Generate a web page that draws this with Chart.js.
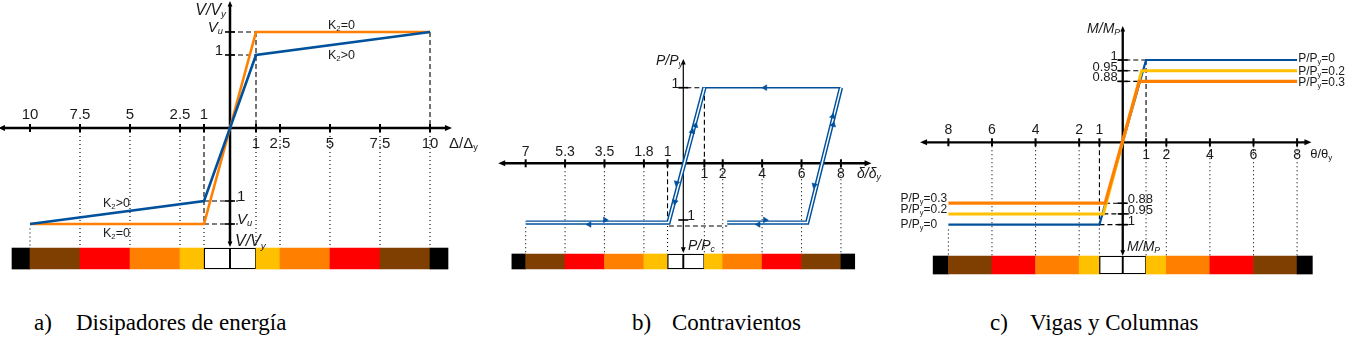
<!DOCTYPE html>
<html>
<head>
    <meta charset="utf-8">
    <title>Curvas generalizadas fuerza-deformación</title>
    <script src="https://cdn.jsdelivr.net/npm/chart.js"></script>
    <style>
        body {
            margin: 0;
            background: #fff;
            width: 1347px;
            height: 338px;
            position: relative;
            overflow: hidden;
        }
        canvas {
            position: absolute;
            top: 0;
        }
        #chartA { left: 0; }
        #chartB { left: 490px; }
        #chartC { left: 900px; }
        .cap {
            position: absolute;
            top: 309px;
            font-family: "Liberation Serif", "Times New Roman", serif;
            font-size: 23px;
            line-height: 28px;
            color: #000;
            white-space: nowrap;
        }
    </style>
</head>
<body>
    <canvas id="chartA" width="490" height="280"></canvas>
    <canvas id="chartB" width="400" height="280"></canvas>
    <canvas id="chartC" width="447" height="280"></canvas>

    <div class="cap" style="left:34px">a)</div>
    <div class="cap" style="left:76px">Disipadores de energía</div>
    <div class="cap" style="left:632px">b)</div>
    <div class="cap" style="left:672px">Contravientos</div>
    <div class="cap" style="left:990px">c)</div>
    <div class="cap" style="left:1030px">Vigas y Columnas</div>

    <script>
        // ---- data ----

        // a) Disipadores de energía (V/Vy vs Δ/Δy)
        const aTickLabels = ['1', '2.5', '5', '7.5', '10'];
        const aTickPos = [1.3, 2.5, 5, 7.5, 10];
        const aVu = 1.315;
        const aK2zero = [[-10, -aVu], [-1.3, -aVu], [1.3, aVu], [10, aVu]];
        const aK2pos = [[-10, -aVu], [-1.3, -1], [1.3, 1], [10, aVu]];
        const aZoneEdges = [-10.9, -10, -7.5, -5, -2.5, -1.3, 0, 1.3, 2.5, 5, 7.5, 10, 10.9];

        // b) Contravientos (P/Py vs δ/δy)
        const bRightLabels = ['1', '2', '4', '6', '8'];
        const bRightPos = [1.07, 2, 4, 6, 8];
        const bLeftLabels = ['7', '5.3', '3.5', '1.8', '1'];
        const bLeftPos = [-8, -6, -4, -2, -0.8];
        const bComp = -0.785;
        const bLoopLeft = [[-8, bComp], [-0.75, bComp], [1.07, 1]];
        const bLoopRight = [[8, 1], [6.29, bComp], [2.23, bComp]];
        const bPeak = [[1.07, 1], [8, 1]];
        const bArrowPts = [[4.15, 1], [0.45, 0.42], [0.62, 0.5], [-0.34, -0.26], [-0.42, -0.51],
                           [7.58, 0.62], [7.61, 0.51], [6.65, -0.29],
                           [-4.77, -0.81], [-3.97, -0.75], [3.81, -0.81], [4.15, -0.75]];
        const bArrowDir = [-90, 14, 14, 194, 194, 14, 14, 194, -90, 90, -90, 90];
        const bZoneEdges = [-8.7, -8, -6, -4, -2, -0.8, 0, 1.07, 2, 4, 6, 8, 8.7];

        // c) Vigas y Columnas (M/Mp vs θ/θy)
        const cTickLabels = ['1', '2', '4', '6', '8'];
        const cTickPos = [1.07, 2, 4, 6, 8];
        const cLevelLabels = ['1', '0.95', '0.88'];
        const cLevelPos = [1, 0.87, 0.74];
        const cSeriesNames = ['P/P{y}=0', 'P/P{y}=0.2', 'P/P{y}=0.3'];
        const cBlue = [[-8, -1], [-1.07, -1], [1.07, 1], [8, 1]];
        const cYellow = [[-8, -0.87], [-0.89, -0.87], [0.87, 0.87], [8, 0.87]];
        const cOrange = [[-8, -0.74], [-0.81, -0.74], [0.76, 0.74], [8, 0.74]];
        const cZoneEdges = [-8.7, -8, -6, -4, -2, -1.07, 0, 1.07, 2, 4, 6, 8, 8.7];

        // performance zones along the bottom strip
        const zoneColors = ['#000000', '#7f3f00', '#ff0000', '#ff8000', '#ffc000', '#ffffff',
                            '#ffffff', '#ffc000', '#ff8000', '#ff0000', '#7f3f00', '#000000'];

        const BLUE = '#00519c', ORANGE = '#ff8000', YELLOW = '#ffc000';
        const DASH = [5, 3], DOT = [1, 3];
        const FONT = '"Liberation Sans", Arial, sans-serif';

        // ---- helpers ----
        function path(pts, color, width, order) {
            return {
                type: 'line',
                data: pts.map(p => ({ x: p[0], y: p[1] })),
                borderColor: color,
                borderWidth: width,
                pointRadius: 0,
                fill: false,
                tension: 0,
                order: order
            };
        }

        function seg(a, b, dash) {
            return {
                type: 'line',
                data: [{ x: a[0], y: a[1] }, { x: b[0], y: b[1] }],
                borderColor: '#000',
                borderWidth: 1.1,
                borderDash: dash,
                pointRadius: 0,
                fill: false,
                order: 8
            };
        }

        function zoneBar(edges, yPos, thick) {
            const data = [];
            for (let i = 0; i < edges.length - 1; i++) {
                data.push({ x: [edges[i], edges[i + 1]], y: yPos });
            }
            return {
                type: 'bar',
                indexAxis: 'y',
                data: data,
                backgroundColor: zoneColors,
                borderColor: '#000',
                borderWidth: zoneColors.map(c => c === '#ffffff' ? 1.3 : 0),
                borderSkipped: false,
                barThickness: thick,
                order: 9
            };
        }

        // text with {subscript} parts
        function rich(ctx, text, x, y, size, align, italic) {
            const parts = text.split(/(\{[^}]*\})/).filter(s => s.length).map(s =>
                s[0] === '{' ? [s.slice(1, -1), true] : [s, false]);
            const font = sub => (italic ? 'italic ' : '') + (sub ? size * 0.62 : size) + 'px ' + FONT;
            let w = 0;
            parts.forEach(p => { ctx.font = font(p[1]); w += ctx.measureText(p[0]).width; });
            let cx = align === 'right' ? x - w : align === 'center' ? x - w / 2 : x;
            ctx.textAlign = 'left';
            ctx.textBaseline = 'alphabetic';
            parts.forEach(p => {
                ctx.font = font(p[1]);
                ctx.fillText(p[0], cx, y + (p[1] ? size * 0.16 : 0));
                cx += ctx.measureText(p[0]).width;
            });
        }

        function arrowHead(ctx, x, y, dx, dy, s) {
            ctx.beginPath();
            ctx.moveTo(x + dx * s, y + dy * s);
            ctx.lineTo(x - dx * s * 0.4 - dy * s * 0.6, y - dy * s * 0.4 - dx * s * 0.6);
            ctx.lineTo(x - dx * s * 0.4 + dy * s * 0.6, y - dy * s * 0.4 + dx * s * 0.6);
            ctx.closePath();
            ctx.fill();
        }

        // draws the centred axes, ticks and labels with the chart's own scales
        function axesPlugin(cfg) {
            return {
                id: 'centredAxes',
                beforeDatasetsDraw(chart) {
                    const ctx = chart.ctx, sx = chart.scales.x, sy = chart.scales.y;
                    const X = v => sx.getPixelForValue(v), Y = v => sy.getPixelForValue(v);
                    ctx.save();
                    ctx.strokeStyle = '#000';
                    ctx.fillStyle = '#000';
                    ctx.lineWidth = cfg.xw;
                    ctx.beginPath();
                    ctx.moveTo(X(cfg.xSpan[0]), Y(0));
                    ctx.lineTo(X(cfg.xSpan[1]), Y(0));
                    ctx.stroke();
                    arrowHead(ctx, X(cfg.xSpan[0]), Y(0), -1, 0, 5);
                    arrowHead(ctx, X(cfg.xSpan[1]), Y(0), 1, 0, 5);
                    ctx.lineWidth = cfg.yw;
                    ctx.beginPath();
                    ctx.moveTo(X(0), Y(cfg.ySpan[0]));
                    ctx.lineTo(X(0), Y(cfg.ySpan[1]));
                    ctx.stroke();
                    arrowHead(ctx, X(0), Y(cfg.ySpan[0]), 0, -1, 4);
                    arrowHead(ctx, X(0), Y(cfg.ySpan[1]), 0, 1, 4);
                    ctx.lineWidth = 2;
                    cfg.leftPos.concat(cfg.rightPos).forEach(p => {
                        ctx.beginPath();
                        ctx.moveTo(X(p), Y(0) - 4);
                        ctx.lineTo(X(p), Y(0) + 4);
                        ctx.stroke();
                    });
                    ctx.lineWidth = 1.6;
                    cfg.yTicks.forEach(t => {
                        ctx.beginPath();
                        ctx.moveTo(X(0) - 5, Y(t.v));
                        ctx.lineTo(X(0) + 5, Y(t.v));
                        ctx.stroke();
                    });
                    ctx.restore();
                },
                afterDatasetsDraw(chart) {
                    const ctx = chart.ctx, sx = chart.scales.x, sy = chart.scales.y;
                    const X = v => sx.getPixelForValue(v), Y = v => sy.getPixelForValue(v);
                    ctx.save();
                    ctx.fillStyle = '#1a1a1a';
                    cfg.leftPos.forEach((p, i) =>
                        rich(ctx, cfg.leftLabels[i], X(p), Y(0) + cfg.leftOff, cfg.size, 'center'));
                    cfg.rightPos.forEach((p, i) =>
                        rich(ctx, cfg.rightLabels[i], X(p), Y(0) + cfg.rightOff, cfg.size, 'center'));
                    cfg.yTicks.forEach(t =>
                        rich(ctx, t.t, X(0) + t.side * cfg.yGap, Y(t.v), cfg.ySize,
                             t.side < 0 ? 'right' : 'left', t.it));
                    cfg.texts.forEach(t =>
                        rich(ctx, t.t, X(t.x), Y(t.y), t.s, t.al || 'left', t.it));
                    ctx.restore();
                }
            };
        }

        function baseOptions(xr, yr) {
            return {
                responsive: false,
                animation: false,
                events: [],
                layout: { padding: 0, autoPadding: false },
                plugins: { legend: { display: false }, tooltip: { enabled: false } },
                scales: {
                    x: { type: 'linear', display: false, offset: false, grid: { offset: false }, min: xr[0], max: xr[1] },
                    y: { type: 'linear', display: false, offset: false, grid: { offset: false }, min: yr[0], max: yr[1] }
                }
            };
        }

        // ---- a) Disipadores de energía ----
        const aBarTop = -1.637;
        const dsA = [
            path(aK2pos, BLUE, 2.6, 2),
            path(aK2zero, ORANGE, 2.6, 3),
            zoneBar(aZoneEdges, -1.788, 21),
            seg([0, aVu], [aTickPos[0], aVu], DASH),
            seg([0, 1], [aTickPos[0], 1], DASH),
            seg([aTickPos[0], aVu], [aTickPos[0], 0], DASH),
            seg([10, aVu], [10, 0], DASH),
            seg([-aTickPos[0], 0], [-aTickPos[0], -aVu], DASH),
            seg([-aTickPos[0], -1], [0.4, -1], DASH),
            seg([-aTickPos[0], -aVu], [0.4, -aVu], DASH)
        ];
        aTickPos.forEach(p => {
            dsA.push(seg([p, 0], [p, aBarTop], DOT));
            const start = p === 10 ? -aVu - 0.06 : p === aTickPos[0] ? -aVu : 0;
            dsA.push(seg([-p, start], [-p, aBarTop], DOT));
        });

        new Chart(document.getElementById('chartA'), {
            type: 'scatter',
            data: { datasets: dsA },
            options: baseOptions([-11.5, 13], [-2.082, 1.753]),
            plugins: [axesPlugin({
                xSpan: [-11.35, 10.85], ySpan: [1.685, -1.575], xw: 2.5, yw: 2.5,
                size: 15, ySize: 15, yGap: 7,
                leftPos: aTickPos.map(p => -p), leftLabels: aTickLabels,
                rightPos: aTickPos, rightLabels: aTickLabels,
                leftOff: -9, rightOff: 20,
                yTicks: [
                    { v: aVu, t: 'V{u}', it: true, side: -1 },
                    { v: 1, t: '1', side: -1 },
                    { v: -1, t: '1', side: 1 },
                    { v: -aVu, t: 'V{u}', it: true, side: 1 }
                ],
                texts: [
                    { t: 'V/V{y}', x: -0.2, y: 1.55, s: 16, al: 'right', it: true },
                    { t: 'V/V{y}', x: 0.25, y: -1.616, s: 16, it: true },
                    { t: 'Δ/Δ{y}', x: 10.95, y: -0.274, s: 15 },
                    { t: 'K{2}=0', x: 4.9, y: 1.356, s: 12.5 },
                    { t: 'K{2}>0', x: 4.9, y: 0.945, s: 12.5 },
                    { t: 'K{2}>0', x: -6.35, y: -1.082, s: 12.5 },
                    { t: 'K{2}=0', x: -6.35, y: -1.493, s: 12.5 }
                ]
            })]
        });

        // ---- b) Contravientos ----
        const bBarTop = -1.2;
        const dsB = [
            {
                type: 'scatter',
                data: bArrowPts.map(p => ({ x: p[0], y: p[1] })),
                pointStyle: 'triangle',
                pointRadius: 3.3,
                rotation: bArrowDir,
                backgroundColor: BLUE,
                borderColor: BLUE,
                borderWidth: 0.5,
                showLine: false,
                order: 0
            },
            path(bPeak, BLUE, 1.5, 3),
            path(bLoopLeft, '#ffffff', 1.5, 1),
            path(bLoopLeft, BLUE, 4.4, 2),
            path(bLoopRight, '#ffffff', 1.5, 1),
            path(bLoopRight, BLUE, 4.4, 2),
            zoneBar(bZoneEdges, -1.299, 15),
            seg([-0.25, 1], [bRightPos[0], 1], DASH),
            seg([bRightPos[0], 1], [bRightPos[0], 0], DASH),
            seg([bLeftPos[4], 0], [bLeftPos[4], -0.83], DASH),
            seg([-0.73, -0.83], [2.23, -0.83], DASH)
        ];
        bRightPos.forEach(p => dsB.push(seg([p, 0], [p, bBarTop], DOT)));
        bLeftPos.forEach(p => {
            const start = p === -8 ? bComp - 0.06 : p === bLeftPos[4] ? -0.83 : 0;
            dsB.push(seg([p, start], [p, bBarTop], DOT));
        });

        new Chart(document.getElementById('chartB'), {
            type: 'scatter',
            data: { datasets: dsB },
            options: baseOptions([-9.81, 10.49], [-1.544, 2.16]),
            plugins: [axesPlugin({
                xSpan: [-9.14, 9.3], ySpan: [1.327, -1.133], xw: 2.4, yw: 1.2,
                size: 14, ySize: 14, yGap: 4,
                leftPos: bLeftPos, leftLabels: bLeftLabels,
                rightPos: bRightPos, rightLabels: bRightLabels,
                leftOff: -7, rightOff: 15,
                yTicks: [
                    { v: 1, t: '1', side: -1 },
                    { v: -0.75, t: '1', side: 1 }
                ],
                texts: [
                    { t: 'P/P{y}', x: -0.02, y: 1.30, s: 14, al: 'right', it: true },
                    { t: 'P/P{c}', x: 0.24, y: -1.147, s: 14, it: true },
                    { t: 'δ/δ{y}', x: 8.82, y: -0.193, s: 14, it: true }
                ]
            })]
        });

        // ---- c) Vigas y Columnas ----
        const cBarTop = -1.382;
        const cCorners = [cBlue, cYellow, cOrange];
        const dsC = [
            path(cOrange, ORANGE, 3.2, 2),
            path(cYellow, YELLOW, 3, 3),
            path(cBlue, BLUE, 2.2, 4),
            zoneBar(cZoneEdges, -1.491, 18),
            seg([cBlue[2][0], 1], [cBlue[2][0], 0], DASH),
            seg([cBlue[1][0], 0], [cBlue[1][0], -1], DASH)
        ];
        cCorners.forEach(s => {
            dsC.push(seg([-0.25, s[2][1]], [s[2][0], s[2][1]], DASH));
            dsC.push(seg([s[1][0], s[1][1]], [0.3, s[1][1]], DASH));
        });
        cTickPos.forEach(p => {
            dsC.push(seg([p, 0], [p, cBarTop], DOT));
            const start = p === 8 ? -1.06 : p === cTickPos[0] ? -1 : 0;
            dsC.push(seg([-p, start], [-p, cBarTop], DOT));
        });

        const cYTicks = [];
        cLevelPos.forEach((v, i) => {
            cYTicks.push({ v: v, t: cLevelLabels[i], side: -1 });
            cYTicks.push({ v: -v, t: cLevelLabels[i], side: 1 });
        });

        new Chart(document.getElementById('chartC'), {
            type: 'scatter',
            data: { datasets: dsC },
            options: baseOptions([-10.22, 10.29], [-1.673, 1.729]),
            plugins: [axesPlugin({
                xSpan: [-9.07, 8.43], ySpan: [1.365, -1.33], xw: 2.3, yw: 2.3,
                size: 14, ySize: 13, yGap: 5,
                leftPos: cTickPos.map(p => -p), leftLabels: cTickLabels,
                rightPos: cTickPos, rightLabels: cTickLabels,
                leftOff: -8, rightOff: 17,
                yTicks: cYTicks,
                texts: [
                    { t: 'M/M{P}', x: -0.12, y: 1.328, s: 14, al: 'right', it: true },
                    { t: 'M/M{P}', x: 0.2, y: -1.32, s: 14, it: true },
                    { t: 'θ/θ{y}', x: 8.6, y: -0.194, s: 13 },
                    { t: cSeriesNames[0], x: 8.05, y: 0.976, s: 12 },
                    { t: cSeriesNames[1], x: 8.05, y: 0.818, s: 12 },
                    { t: cSeriesNames[2], x: 8.05, y: 0.685, s: 12 },
                    { t: cSeriesNames[2], x: -10.2, y: -0.725, s: 12 },
                    { t: cSeriesNames[1], x: -10.2, y: -0.865, s: 12 },
                    { t: cSeriesNames[0], x: -10.2, y: -1.047, s: 12 }
                ]
            })]
        });
    </script>
</body>
</html>
